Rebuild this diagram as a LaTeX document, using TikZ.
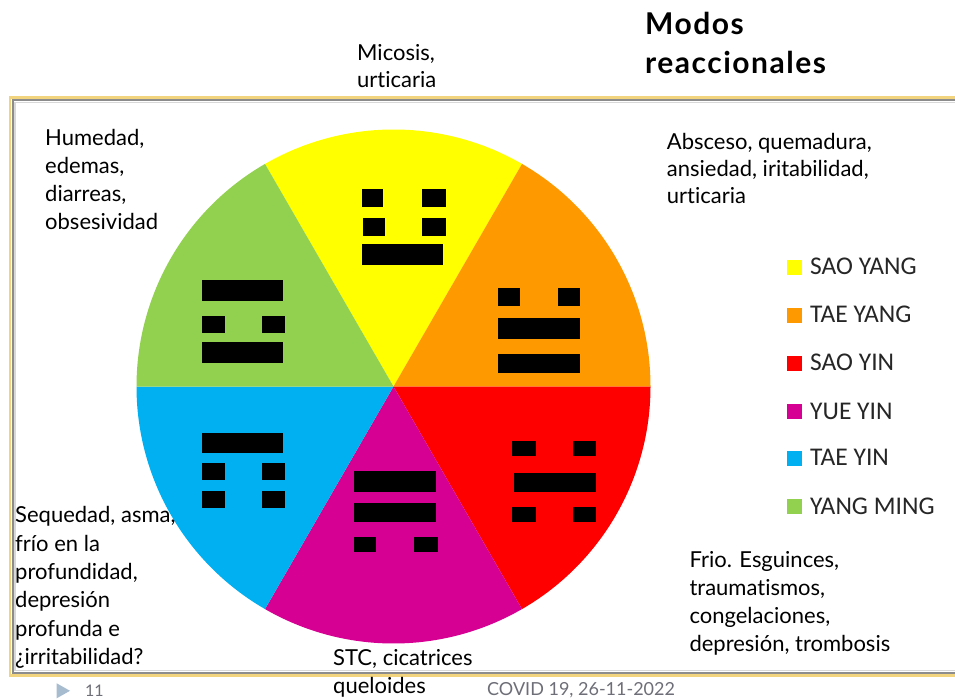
\documentclass[tikz,border=0pt]{standalone}
\usepackage{fontspec}
\setmainfont{Lato}[Ligatures={NoCommon}]
\newfontfamily\legfont{Carlito}
\definecolor{cyel}{HTML}{FFFF00}
\definecolor{cora}{HTML}{FF9900}
\definecolor{cred}{HTML}{FF0000}
\definecolor{cmag}{HTML}{D60093}
\definecolor{cblu}{HTML}{00B0F0}
\definecolor{cgrn}{HTML}{92D050}
\definecolor{framegold}{HTML}{F2D37E}
\definecolor{framegray}{HTML}{8C8C8C}
\definecolor{framelight}{HTML}{D8D8D8}
\definecolor{footblue}{HTML}{A8BCD0}
\definecolor{footgray}{HTML}{6E6E78}
\definecolor{legtext}{HTML}{262626}
\begin{document}
\begin{tikzpicture}[x=1pt,y=1pt,
  lbl/.style={anchor=base west, align=left, inner sep=0pt, font=\fontsize{22}{28}\selectfont},
  legtxt/.style={anchor=base west, inner sep=0pt, text=legtext, font=\legfont\fontsize{25.5}{28}\selectfont},
  bar/.style={fill=black}]
\useasboundingbox (0,0) rectangle (955,-700);
\fill[white] (0,0) rectangle (955,-700);
% frame
\draw[framegold, line width=2.5pt] (10,-97.5) rectangle (975,-675.5);
\draw[framegray, line width=2pt] (13,-100.3) rectangle (972,-672.7);
\draw[framelight, line width=1.5pt] (15,-102.3) rectangle (970,-670.7);
% pie
\coordinate (c) at (393.5,-386.5);
\def\R{257}
\fill[cyel] (c) -- ++(60:\R) arc[start angle=60, end angle=120, radius=\R] -- cycle;
\fill[cora] (c) -- ++(0:\R) arc[start angle=0, end angle=60, radius=\R] -- cycle;
\fill[cred] (c) -- ++(-60:\R) arc[start angle=-60, end angle=0, radius=\R] -- cycle;
\fill[cmag] (c) -- ++(-120:\R) arc[start angle=-120, end angle=-60, radius=\R] -- cycle;
\fill[cblu] (c) -- ++(180:\R) arc[start angle=180, end angle=240, radius=\R] -- cycle;
\fill[cgrn] (c) -- ++(120:\R) arc[start angle=120, end angle=180, radius=\R] -- cycle;
% trigrams: yellow
\fill[bar] (361.7,-189.3) rectangle (383.3,-206.7);
\fill[bar] (422.3,-189.3) rectangle (445.7,-206.7);
\fill[bar] (362.7,-217.7) rectangle (385,-235.7);
\fill[bar] (422.3,-217.7) rectangle (445.7,-235.7);
\fill[bar] (361.7,-244) rectangle (443.3,-265);
% orange
\fill[bar] (498.3,-287.7) rectangle (520,-305.7);
\fill[bar] (558.3,-287.7) rectangle (580,-305.7);
\fill[bar] (498.3,-318.3) rectangle (580,-339.3);
\fill[bar] (498.3,-354.3) rectangle (580,-373.3);
% green
\fill[bar] (201.7,-280) rectangle (283.3,-301);
\fill[bar] (201.7,-316) rectangle (225,-333.3);
\fill[bar] (261.7,-316) rectangle (285,-333.3);
\fill[bar] (201.7,-342.3) rectangle (283.3,-363.3);
% blue
\fill[bar] (201.7,-432.7) rectangle (283.3,-453.3);
\fill[bar] (201.7,-462.7) rectangle (225,-480);
\fill[bar] (261.7,-462.7) rectangle (285,-480);
\fill[bar] (201.7,-490.7) rectangle (225,-507.7);
\fill[bar] (261.7,-490.7) rectangle (285,-507.7);
% magenta
\fill[bar] (354,-471) rectangle (435.7,-491.7);
\fill[bar] (354,-502.7) rectangle (435.7,-521.7);
\fill[bar] (354,-536.7) rectangle (375.7,-552.3);
\fill[bar] (414.3,-536.7) rectangle (437.7,-552.3);
% red
\fill[bar] (512.3,-441) rectangle (535.7,-455.7);
\fill[bar] (573.3,-441) rectangle (596,-455.7);
\fill[bar] (514.3,-472.7) rectangle (596,-491.7);
\fill[bar] (512.3,-506.7) rectangle (535.7,-522.3);
\fill[bar] (573.3,-506.7) rectangle (596,-522.3);
% texts (anchor = baseline of the last line)
\node[lbl, font=\fontsize{22}{27}\selectfont] (micosis) at (357,-87.3) {Micosis,\\urticaria};
\node[lbl] (humedad) at (45,-229.8) {Humedad,\\edemas,\\diarreas,\\obsesividad};
\node[lbl, font=\fontsize{22}{27}\selectfont] (absceso) at (666.7,-204) {Absceso, quemadura,\\ansiedad, iritabilidad,\\urticaria};
\node[lbl, font=\fontsize{22}{28.4}\selectfont] (sequedad) at (15,-664.7) {Sequedad, asma,\\frío en la\\profundidad,\\depresión\\profunda e\\¿irritabilidad?};
\node[lbl] (frio) at (689.3,-651.5) {Frio. Esguinces,\\traumatismos,\\congelaciones,\\depresión, trombosis};
\node[lbl] (stc) at (333,-693.3) {STC, cicatrices\\queloides};
\node[anchor=base west, align=left, inner sep=0pt, font=\bfseries\addfontfeature{LetterSpace=5}\fontsize{30}{38.3}\selectfont] (title) at (645,-73.3) {Modos\\reaccionales};
% legend
\fill[cyel] (787,-275) rectangle (802,-260);
\node[legtxt] (l1) at (810,-275) {SAO YANG};
\fill[cora] (787,-322.7) rectangle (802,-307.7);
\node[legtxt] (l2) at (810,-322.7) {TAE YANG};
\fill[cred] (787,-370.7) rectangle (802,-355.7);
\node[legtxt] (l3) at (810,-370.7) {SAO YIN};
\fill[cmag] (787,-419) rectangle (802,-404);
\node[legtxt] (l4) at (810,-419) {YUE YIN};
\fill[cblu] (787,-465.7) rectangle (802,-450.7);
\node[legtxt] (l5) at (810,-465.7) {TAE YIN};
\fill[cgrn] (787,-514) rectangle (802,-499);
\node[legtxt] (l6) at (810,-514) {YANG MING};
% footer
\fill[footblue] (56.7,-683.3) -- (70,-690.8) -- (56.7,-698.3) -- cycle;
\node[anchor=base west, inner sep=0pt, text=footgray, font=\fontsize{16}{18}\selectfont] (page) at (85,-696) {11};
\node[anchor=base west, inner sep=0pt, text=footgray, font=\fontsize{18}{20}\selectfont] (covid) at (487,-695) {COVID 19, 26-11-2022};
\end{tikzpicture}
\end{document}
